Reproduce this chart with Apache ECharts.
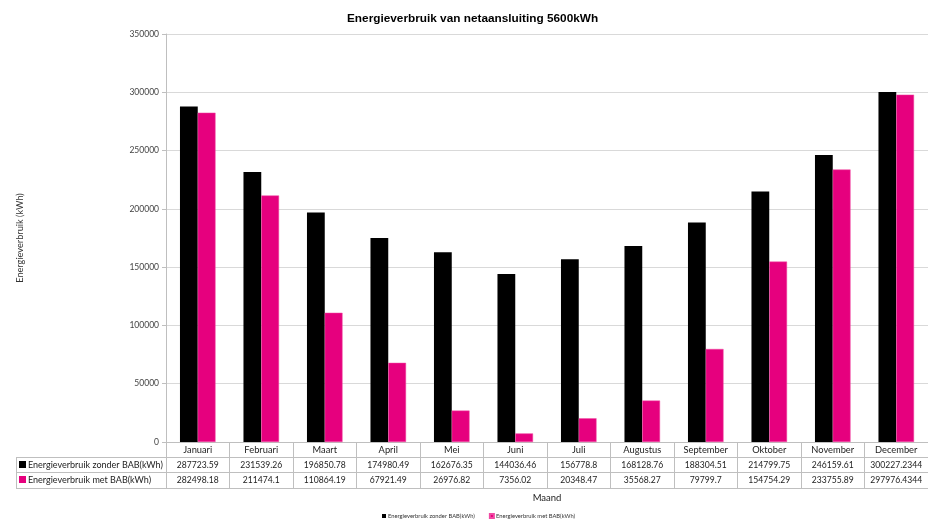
<!DOCTYPE html>
<html>
<head>
<meta charset="utf-8">
<script src="https://cdn.jsdelivr.net/npm/echarts@6/dist/echarts.min.js"></script>
<style>
  html, body { margin: 0; padding: 0; background: #fff; }
  #chart { width: 928px; height: 524px; }
</style>
</head>
<body>
<div id="chart"></div>
<script>
const months = ["Januari", "Februari", "Maart", "April", "Mei", "Juni", "Juli", "Augustus", "September", "Oktober", "November", "December"];
const zonderBAB = [287723.59, 231539.26, 196850.78, 174980.49, 162676.35, 144036.46, 156778.8, 168128.76, 188304.51, 214799.75, 246159.61, 300227.2344];
const metBAB = [282498.18, 211474.1, 110864.19, 67921.49, 26976.82, 7356.02, 20348.47, 35568.27, 79799.7, 154754.29, 233755.89, 297976.4344];
const seriesNames = ["Energieverbruik zonder BAB(kWh)", "Energieverbruik met BAB(kWh)"];
const colors = ["#000000", "#e6007e"];

const font = "Liberation Sans, Arial, sans-serif";
const textFont = "Lato, sans-serif";
const lineGray = "#bfbfbf";

const chart = echarts.init(document.getElementById("chart"));

// helper: extra x axes used as table rows
function tableAxis(offset, labels) {
    return {
        type: "category",
        data: months,
        position: "bottom",
        offset: offset,
        axisLine: { show: true, lineStyle: { color: lineGray, width: 1 } },
        axisTick: { show: false },
        axisLabel: {
            show: !!labels,
            interval: 0,
            margin: 3.5,
            fontSize: 8.6,
            color: "#222",
            fontFamily: textFont,
            formatter: function (v, i) { return labels ? String(labels[i]) : ""; }
        },
        splitLine: { show: false }
    };
}

const option = {
    animation: false,
    backgroundColor: "#fff",
    title: {
        text: "Energieverbruik van netaansluiting 5600kWh",
        left: 342,
        top: 8,
        textStyle: { fontFamily: font, fontSize: 11.8, fontWeight: "bold", color: "#000" }
    },
    legend: {
        bottom: 0,
        left: 377,
        itemWidth: 4,
        itemHeight: 4,
        itemGap: 14,
        icon: "rect",
        textStyle: { fontSize: 5.8, color: "#333", fontFamily: textFont, padding: [0, 0, 0, -3] },
        data: seriesNames
    },
    grid: { left: 166, top: 34, width: 769, height: 408 },
    xAxis: [
        {
            type: "category",
            data: months,
            name: "Maand",
            nameLocation: "middle",
            nameGap: 51,
            nameTextStyle: { fontSize: 9.5, color: "#222", fontFamily: textFont },
            axisLine: { show: true, lineStyle: { color: lineGray, width: 1 } },
            axisTick: { show: true, length: 46, lineStyle: { color: lineGray } },
            axisLabel: { interval: 0, margin: 3, fontSize: 9.3, color: "#222", fontFamily: textFont },
            splitLine: { show: false }
        },
        tableAxis(15, zonderBAB),
        tableAxis(30, metBAB),
        tableAxis(46, null)
    ],
    yAxis: {
        type: "value",
        min: 0,
        max: 350000,
        interval: 50000,
        name: "Energieverbruik (kWh)",
        nameLocation: "middle",
        nameGap: 141,
        nameRotate: 90,
        nameTextStyle: { fontSize: 9.2, color: "#333", fontFamily: textFont },
        axisLine: { show: true, lineStyle: { color: lineGray } },
        axisTick: { show: true, length: 4, lineStyle: { color: lineGray } },
        axisLabel: {
            fontSize: 8.5, color: "#444", fontFamily: textFont, margin: 7,
            formatter: function (v) { return String(v); }
        },
        splitLine: { show: true, lineStyle: { color: "#d9d9d9", width: 1 } }
    },
    series: [
        {
            name: seriesNames[0],
            type: "bar",
            data: zonderBAB,
            barGap: "0%",
            barCategoryGap: "44%",
            itemStyle: { color: colors[0] }
        },
        {
            name: seriesNames[1],
            type: "bar",
            data: metBAB,
            itemStyle: { color: colors[1], borderColor: "#f04aa3", borderWidth: 0.5 }
        }
    ],
    graphic: [
        // row header column of the data table
        { type: "line", shape: { x1: 16, y1: 457.5, x2: 166, y2: 457.5 }, style: { stroke: lineGray, lineWidth: 1 } },
        { type: "line", shape: { x1: 16, y1: 472.5, x2: 166, y2: 472.5 }, style: { stroke: lineGray, lineWidth: 1 } },
        { type: "line", shape: { x1: 16, y1: 488.5, x2: 166, y2: 488.5 }, style: { stroke: lineGray, lineWidth: 1 } },
        { type: "line", shape: { x1: 16.5, y1: 457, x2: 16.5, y2: 489 }, style: { stroke: lineGray, lineWidth: 1 } },
        { type: "rect", shape: { x: 19, y: 461, width: 7, height: 7 }, style: { fill: colors[0] } },
        { type: "rect", shape: { x: 19, y: 476, width: 7, height: 7 }, style: { fill: colors[1] } },
        { type: "text", x: 28, y: 465, style: { text: seriesNames[0], fontSize: 9, fill: "#222", fontFamily: textFont, verticalAlign: "middle" } },
        { type: "text", x: 28, y: 480, style: { text: seriesNames[1], fontSize: 9, fill: "#222", fontFamily: textFont, verticalAlign: "middle" } }
    ]
};

chart.setOption(option);
</script>
</body>
</html>
